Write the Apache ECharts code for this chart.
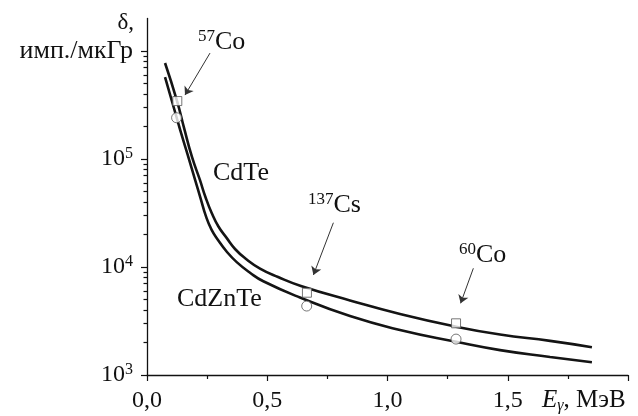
<!DOCTYPE html>
<html>
<head>
<meta charset="utf-8">
<script src="https://cdn.jsdelivr.net/npm/echarts@6/dist/echarts.min.js"></script>
<style>html,body{margin:0;padding:0;background:#fff}#c{width:638px;height:416px}</style>
</head>
<body>
<div id="c"></div>
<script>
// ---- data ----
const energyCdTe = [0.075, 0.125, 0.154, 0.187, 0.220, 0.243, 0.269, 0.297, 0.331, 0.366, 0.412, 0.470, 0.545, 0.640, 0.844, 1.052, 1.272, 1.468, 1.676, 1.850];
const deltaCdTe  = [7.74e5, 3.44e5, 1.94e5, 1.045e5, 6.4e4, 4.45e4, 3.16e4, 2.37e4, 1.86e4, 1.468e4, 1.186e4, 9.68e3, 8.07e3, 6.67e3, 4.90e3, 3.67e3, 2.84e3, 2.37e3, 2.07e3, 1.81e3];
const energyCdZnTe = [0.075, 0.1235, 0.141, 0.1705, 0.200, 0.2225, 0.2453, 0.2682, 0.2952, 0.3326, 0.373, 0.4283, 0.4836, 0.636, 0.844, 1.052, 1.285, 1.468, 1.676, 1.850];
const deltaCdZnTe  = [5.74e5, 2.41e5, 1.76e5, 1.07e5, 6.4e4, 4.35e4, 2.94e4, 2.22e4, 1.78e4, 1.377e4, 1.11e4, 8.85e3, 7.38e3, 5.22e3, 3.51e3, 2.61e3, 2.03e3, 1.70e3, 1.47e3, 1.31e3];
const sourceNames = ['57Co', '137Cs', '60Co'];
const squareE = [0.126, 0.665, 1.285];
const squareD = [3.44e5, 5.78e3, 3.01e3];
const circleE = [0.123, 0.664, 1.285];
const circleD = [2.41e5, 4.35e3, 2.15e3];
// annotation arrows (start -> end) in data units
const arrowFrom = [[0.262, 9.57e5], [0.775, 2.57e4], [1.357, 9.73e3]];
const arrowTo   = [[0.158, 3.91e5], [0.692, 8.44e3], [1.304, 4.61e3]];
const xTickLabels = ['0,0', '0,5', '1,0', '1,5', ''];
const yTickExponents = {1000: '3', 10000: '4', 100000: '5'};
const yUnit = 'имп./мкГр';

const FONT = 'Liberation Serif';
const INK = '#111';
const yMin = 1000, yMax = 2e6;

const zip = (a, b) => a.map((v, i) => [v, b[i]]);
const majorLog = [3, 4, 5, 6];
const minorLog = [];
for (let n = 3; n <= 5; n++) for (let k = 2; k <= 9; k++) minorLog.push(Math.log10(k * Math.pow(10, n)));

const richMain = {
  b: {fontFamily: FONT, fontSize: 24, lineHeight: 26, color: INK},
  s: {fontFamily: FONT, fontSize: 16, lineHeight: 14, verticalAlign: 'top', color: INK},
  u: {fontFamily: FONT, fontSize: 26, lineHeight: 26, color: INK}
};
const gRich = {
  s: {fontFamily: FONT, fontSize: 17, lineHeight: 15, verticalAlign: 'top', fill: INK},
  m: {fontFamily: FONT, fontSize: 26, lineHeight: 28, fill: INK},
  n: {fontFamily: FONT, fontSize: 25, lineHeight: 28, fill: INK},
  i: {fontFamily: FONT, fontSize: 25, lineHeight: 28, fontStyle: 'italic', fill: INK},
  g: {fontFamily: FONT, fontSize: 16, lineHeight: 14, fontStyle: 'italic', verticalAlign: 'bottom', fill: INK}
};
function supText(name) {
  const m = name.match(/^(\d+)(.*)$/);
  return '{s|' + m[1] + '}{m|' + m[2] + '}';
}
function gText(x, y, text, extra) {
  return {type: 'text', x: x, y: y, silent: true,
    style: Object.assign({text: text, rich: gRich, fill: INK, font: '26px "' + FONT + '"', align: 'left', verticalAlign: 'top'}, extra || {})};
}

const chart = echarts.init(document.getElementById('c'), null, {renderer: 'canvas'});
const auxAxis = (vals, len) => ({
  type: 'value', min: 3, max: Math.log10(yMax), position: 'left', offset: 0,
  axisLine: {show: false}, splitLine: {show: false},
  axisLabel: {show: false, customValues: vals},
  axisTick: {show: true, inside: false, length: len, customValues: vals, lineStyle: {color: INK, width: 1.2}}
});

chart.setOption({
  animation: false,
  backgroundColor: '#fff',
  grid: {left: 147, right: 10, top: 18.5, bottom: 41, outerBoundsMode: 'none'},
  xAxis: {
    type: 'value', min: 0, max: 2, interval: 0.5,
    axisLine: {onZero: false, lineStyle: {color: INK, width: 1.3}},
    axisTick: {inside: false, length: 6, lineStyle: {color: INK, width: 1.2}},
    minorTick: {show: true, splitNumber: 2, length: 4, lineStyle: {color: INK, width: 1.2}},
    splitLine: {show: false},
    axisLabel: {margin: 14, fontFamily: FONT, fontSize: 24, color: INK,
      formatter: (v) => xTickLabels[Math.round(v / 0.5)] || ''}
  },
  yAxis: [
    {
      type: 'log', logBase: 10, min: yMin, max: yMax, position: 'left',
      axisLine: {show: true, onZero: false, lineStyle: {color: INK, width: 1.3}},
      axisTick: {show: false}, minorTick: {show: false}, splitLine: {show: false},
      axisLabel: {margin: 14, rich: richMain,
        formatter: v => {
          const key = Math.round(v);
          if (yTickExponents[key]) return '{b|10}{s|' + yTickExponents[key] + '}';
          if (Math.abs(v - 1e6) < 1) return '{u|' + yUnit + '}';
          return '';
        }}
    },
    auxAxis(majorLog, 6),
    auxAxis(minorLog, 3.5)
  ],
  series: [
    {
      name: 'CdTe', type: 'line', data: zip(energyCdTe, deltaCdTe), yAxisIndex: 0,
      smooth: 0.5, showSymbol: false, z: 2,
      lineStyle: {color: '#141414', width: 2.6},
      markLine: {
        silent: true, symbol: ['none', 'arrow'], symbolSize: 8,
        lineStyle: {color: '#333', width: 1, type: 'solid'},
        label: {show: false},
        data: arrowFrom.map((f, i) => [{coord: f}, {coord: arrowTo[i]}])
      }
    },
    {
      name: 'CdZnTe', type: 'line', data: zip(energyCdZnTe, deltaCdZnTe), yAxisIndex: 0,
      smooth: 0.5, showSymbol: false, z: 2,
      lineStyle: {color: '#141414', width: 2.6}
    },
    {
      name: 'CdTe points', type: 'scatter', data: zip(squareE, squareD), yAxisIndex: 0,
      symbol: 'rect', symbolSize: 9, z: 5,
      itemStyle: {color: '#fff', borderColor: '#555', borderWidth: 1}
    },
    {
      name: 'CdZnTe points', type: 'scatter', data: zip(circleE, circleD), yAxisIndex: 0,
      symbol: 'circle', symbolSize: 10, z: 5,
      itemStyle: {color: '#fff', borderColor: '#555', borderWidth: 1}
    }
  ],
  graphic: [
    {type: 'text', x: 134, y: 23, silent: true,
      style: {text: 'δ,', font: '23px "' + FONT + '"', fill: INK, align: 'right', verticalAlign: 'middle'}},
    gText(198, 28.5, supText(sourceNames[0])),
    gText(308, 191, supText(sourceNames[1])),
    gText(459, 241, supText(sourceNames[2])),
    gText(213, 159.5, '{m|CdTe}'),
    gText(177, 285.5, '{m|CdZnTe}'),
    gText(542, 386, '{i|E}{g|γ}{n|, МэВ}')
  ]
});
</script>
</body>
</html>
